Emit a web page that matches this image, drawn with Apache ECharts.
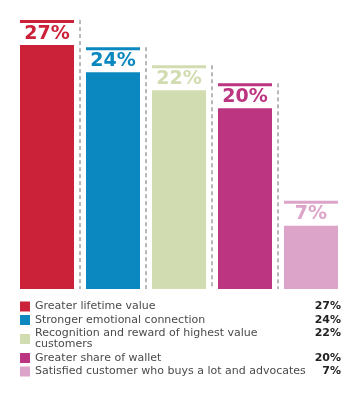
<!DOCTYPE html>
<html>
<head>
<meta charset="utf-8">
<script src="https://cdn.jsdelivr.net/npm/echarts@6/dist/echarts.min.js"></script>
<style>html,body{margin:0;padding:0;background:#fff;}#c{width:360px;height:393px;}</style>
</head>
<body>
<div id="c"></div>
<script>
const categories = [
  "Greater lifetime value",
  "Stronger emotional connection",
  "Recognition and reward of highest value\ncustomers",
  "Greater share of wallet",
  "Satisfied customer who buys a lot and advocates"
];
const values = [27, 24, 22, 20, 7];
const colors = ["#CB2239", "#0B88BF", "#D1DCB0", "#BC3581", "#DCA4C9"];

const chart = echarts.init(document.getElementById('c'), null, {renderer: 'canvas'});

function renderItem(params, api) {
  const idx = api.value(0);
  const v = api.value(1);
  const top = api.coord([idx, v]);
  const base = api.coord([idx, 0]);
  const band = api.size([1, 0])[0];
  const w = band - 12;
  const cx = top[0], ty = top[1], by = base[1];
  const color = api.visual('color');
  const children = [
    {type: 'rect', shape: {x: cx - w / 2, y: ty, width: w, height: by - ty}, style: {fill: color}},
    {type: 'rect', shape: {x: cx - w / 2, y: ty - 25, width: w, height: 3}, style: {fill: color}},
    {type: 'text', x: cx, y: ty - 11.5, style: {text: v + '%', fill: color, font: 'bold 19px "DejaVu Sans"', align: 'center', verticalAlign: 'middle'}}
  ];
  if (idx < values.length - 1) {
    children.push({type: 'line', shape: {x1: cx + band / 2, y1: ty - 25, x2: cx + band / 2, y2: by},
      style: {stroke: '#707070', lineWidth: 1, lineDash: [4, 3]}});
  }
  return {type: 'group', children};
}

const series = categories.map((name, i) => ({
  name: name,
  type: 'custom',
  renderItem: renderItem,
  itemStyle: {color: colors[i]},
  data: [[i, values[i]]],
  encode: {x: 0, y: 1}
}));

chart.setOption({
  animation: false,
  grid: {left: 14, right: 16, top: 18, bottom: 104},
  xAxis: {type: 'category', data: categories, show: false},
  yAxis: {type: 'value', min: 0, max: 30, show: false},
  legend: {
    orient: 'vertical', left: 20, top: 301, padding: 0,
    itemWidth: 10, itemHeight: 10, itemGap: 2.5, icon: 'rect',
    data: categories,
    formatter: function (name) {
      const i = categories.indexOf(name);
      const lines = name.split('\n');
      let s = '{n|' + lines[0] + '}{v|' + values[i] + '%}';
      for (let k = 1; k < lines.length; k++) s += '\n{n|' + lines[k] + '}';
      return s;
    },
    textStyle: {
      fontFamily: 'DejaVu Sans', fontSize: 11, color: '#4a4a4a', lineHeight: 11,
      rich: {
        n: {width: 276, fontFamily: 'DejaVu Sans', fontSize: 11, color: '#4a4a4a', lineHeight: 11},
        v: {width: 30, align: 'right', fontFamily: 'DejaVu Sans', fontSize: 11, fontWeight: 'bold', color: '#222', lineHeight: 11}
      }
    }
  },
  series: series
});
</script>
</body>
</html>
